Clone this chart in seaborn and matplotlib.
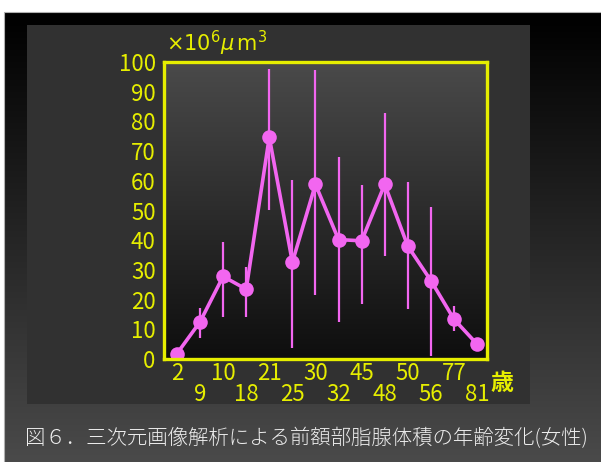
import numpy as np
import pandas as pd
import seaborn as sns
import matplotlib
matplotlib.use("Agg")
import matplotlib.pyplot as plt
from matplotlib.patches import Rectangle

# Forehead sebaceous gland volume by age (female), x10^6 um^3
ages = ["2", "9", "10", "18", "21", "25", "30", "32", "45", "48", "50", "56", "77", "81"]
volume = [1.8, 12.5, 27.8, 23.5, 74.7, 32.6, 58.8, 40.2, 39.8, 58.8, 38.0, 26.4, 13.4, 5.0]
err_low = [1.8, 7.2, 14.0, 14.0, 50.2, 3.6, 21.6, 12.3, 18.5, 34.6, 17.0, 1.0, 9.5, 5.0]
err_high = [1.8, 17.2, 39.4, 31.0, 97.7, 60.3, 97.4, 67.9, 58.7, 82.7, 59.5, 51.2, 18.0, 5.0]
y_ticks = [0, 10, 20, 30, 40, 50, 60, 70, 80, 90, 100]
caption = "図６．三次元画像解析による前額部脂腺体積の年齢変化(女性)"

sns.set_theme(style="ticks")
plt.rcParams["font.family"] = ["Noto Sans CJK JP", "DejaVu Sans"]
plt.rcParams["mathtext.fontset"] = "dejavusans"

YELLOW = "#e6ee00"
PINK = "#f266f0"

W, H = 601, 462
fig = plt.figure(figsize=(W / 100, H / 100), dpi=100, facecolor="white")

# Slide background: dark frame with vertical gradient, inner panel
bg = fig.add_axes([0, 0, 1, 1], zorder=0)
bg.set_xlim(0, W)
bg.set_ylim(H, 0)
bg.axis("off")
grad = np.linspace(0, 1, 256).reshape(-1, 1)
bg.imshow(grad, cmap=matplotlib.colors.LinearSegmentedColormap.from_list(
    "frame", ["#000000", "#4a4a4a"]), extent=(5, W, H, 13), aspect="auto",
    interpolation="bilinear")
bg.add_patch(Rectangle((4, 12), W, H, fill=False, edgecolor="#b0b0b0", lw=0.8))
bg.add_patch(Rectangle((27, 25), 503, 379, facecolor="#313131", edgecolor="none"))
bg.text(306, 438, caption, color="#eeeeee", fontsize=14.7,
        fontweight="light", ha="center", va="center")

# Chart axes
ax = fig.add_axes([164 / W, 1 - 359 / H, 323 / W, 297 / H], zorder=2)
ax.imshow(grad, cmap=matplotlib.colors.LinearSegmentedColormap.from_list(
    "plotbg", ["#4a4a4a", "#0e0e0e"]), extent=(0, 1, 0, 1),
    transform=ax.transAxes, aspect="auto", interpolation="bilinear", zorder=0)

df = pd.DataFrame({"pos": np.arange(len(ages)), "volume": volume,
                   "low": err_low, "high": err_high})

ax.vlines(df["pos"], df["low"], df["high"], color=PINK, lw=1.6, zorder=2)
sns.lineplot(data=df, x="pos", y="volume", ax=ax, color=PINK, lw=2.6,
             marker="o", markersize=10.5, markeredgewidth=0, zorder=3)

ax.set_xlim(-0.56, len(ages) - 1 + 0.43)
ax.set_ylim(0, 100)
ax.set_xlabel("")
ax.set_ylabel("")

ax.set_yticks(y_ticks)
ax.set_yticklabels([str(v) for v in y_ticks])
pos = np.arange(len(ages))
ax.set_xticks(pos[::2])
ax.set_xticklabels(ages[::2])
ax.set_xticks(pos[1::2], minor=True)
ax.set_xticklabels(ages[1::2], minor=True)
ax.tick_params(axis="both", which="both", length=0, colors=YELLOW, labelsize=16)
ax.tick_params(axis="y", pad=6)
ax.tick_params(axis="x", which="major", pad=2)
ax.tick_params(axis="x", which="minor", pad=17)

for sp in ax.spines.values():
    sp.set_color(YELLOW)
    sp.set_linewidth(2.4)
    sp.set_joinstyle("round")
    sp.set_zorder(4)

fig.text(502 / W, 1 - 383 / H, "歳", color=YELLOW, fontsize=16.5,
         fontweight="bold", ha="center", va="center")
fig.text(166 / W, 1 - 43 / H, r"$\times 10^{6}\mu\,\mathrm{m}^{3}$",
         color=YELLOW, fontsize=15, ha="left", va="center")

fig.savefig("out.png", dpi=100, facecolor="white")
